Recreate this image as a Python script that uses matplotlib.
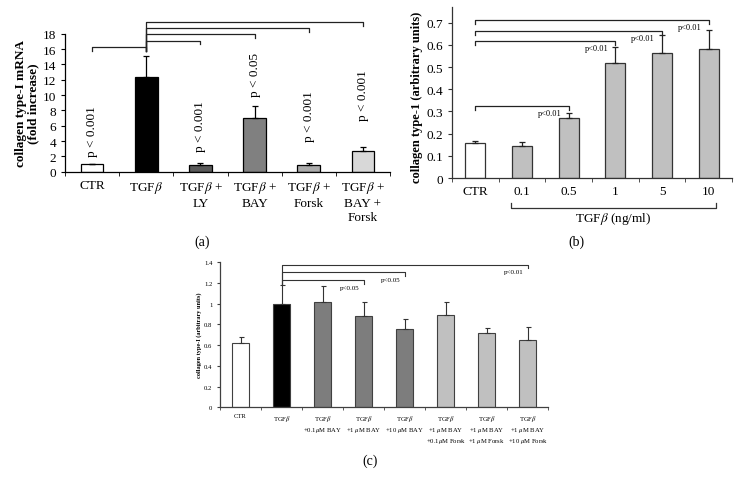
import numpy as np
import matplotlib.pyplot as plt
from matplotlib import transforms

plt.rcParams['font.family'] = ['Liberation Serif', 'DejaVu Serif']
plt.rcParams['mathtext.fontset'] = 'stix'

# ---- panel (a): collagen type-I mRNA
groups_a = ['CTR', 'TGF$\\beta$', 'TGF$\\beta$ +\nLY', 'TGF$\\beta$ +\nBAY',
            'TGF$\\beta$ +\nForsk', 'TGF$\\beta$ +\nBAY +\nForsk']
mrna = [1.05, 12.4, 0.9, 6.95, 0.9, 2.65]
mrna_err = [0.0, 2.65, 0.2, 1.6, 0.18, 0.52]
pvals_a = ['p < 0.001', '', 'p < 0.001', 'p < 0.05', 'p < 0.001', 'p < 0.001']
colors_a = ['white', 'black', '#5a5a5a', '#808080', '#ababab', '#d8d8d8']
brackets_a = [(0, 1, 16.3), (1, 2, 17.1), (1, 3, 18.0), (1, 4, 18.7), (1, 5, 19.5)]

# ---- panel (b): dose response
groups_b = ['CTR', '0.1', '0.5', '1', '5', '10']
protein_b = [0.156, 0.146, 0.27, 0.517, 0.564, 0.58]
protein_b_err = [0.012, 0.015, 0.023, 0.075, 0.08, 0.088]
brackets_b = [(0, 2, 0.326, 'p<0.01'), (0, 3, 0.618, 'p<0.01'),
              (0, 4, 0.664, 'p<0.01'), (0, 5, 0.712, 'p<0.01')]

# ---- panel (c): BAY / Forskolin
groups_c = ['CTR', 'TGF$\\beta$', 'TGF$\\beta$\n+0.1$\\mu$M BAY', 'TGF$\\beta$\n+1 $\\mu$M BAY',
            'TGF$\\beta$\n+10 $\\mu$M BAY', 'TGF$\\beta$\n+1 $\\mu$M BAY\n+0.1$\\mu$M Forsk',
            'TGF$\\beta$\n+1 $\\mu$M BAY\n+1 $\\mu$M Forsk', 'TGF$\\beta$\n+1 $\\mu$M BAY\n+10 $\\mu$M Forsk']
protein_c = [0.62, 1.0, 1.015, 0.882, 0.755, 0.888, 0.713, 0.645]
protein_c_err = [0.054, 0.175, 0.152, 0.128, 0.092, 0.13, 0.048, 0.125]
colors_c = ['white', 'black', '#7d7d7d', '#7d7d7d', '#7d7d7d', '#c0c0c0', '#c0c0c0', '#c0c0c0']
brackets_c = [(1, 3, 1.223, 'p<0.05'), (1, 4, 1.30, 'p<0.05'), (1, 7, 1.374, 'p<0.01')]

W, H = 741, 485
fig = plt.figure(figsize=(W / 100, H / 100), dpi=100)


def box(l, r, top, bot):
    return [l / W, 1 - bot / H, (r - l) / W, (bot - top) / H]


def style(ax, n, fs, edge):
    for s in ['top', 'right']:
        ax.spines[s].set_visible(False)
    for s in ['left', 'bottom']:
        ax.spines[s].set_color(edge)
        ax.spines[s].set_linewidth(0.9)
    ax.set_xlim(-0.5, n - 0.5)
    ax.set_xticks(np.arange(-0.5, n, 1), minor=True)
    ax.tick_params(axis='x', which='major', length=0, labelsize=fs)
    ax.tick_params(axis='x', which='minor', length=3, direction='out', color=edge)
    ax.tick_params(axis='y', length=3, direction='out', labelsize=fs, color=edge)


# (a)
ax = fig.add_axes(box(65, 390, 34.7, 172.7))
x = np.arange(len(mrna))
ax.bar(x, mrna, width=0.42, color=colors_a, edgecolor='black', linewidth=0.9, zorder=2)
ax.errorbar(x, mrna, yerr=[np.zeros(len(x)), mrna_err], fmt='none', ecolor='black',
            elinewidth=0.9, capsize=2.5, capthick=0.9, zorder=3)
ax.set_ylim(0, 18)
ax.set_yticks(range(0, 19, 2))
ax.set_xticks(x)
ax.set_xticklabels(groups_a, linespacing=1.25)
style(ax, len(x), 9.5, 'black')
ax.tick_params(axis='x', which='major', pad=5)
ax.set_ylabel('collagen type-I mRNA\n(fold increase)', fontsize=9.5, fontweight='bold',
              linespacing=1.1)
ax.yaxis.set_label_coords(-0.078, 0.5)
label_y_a = [2.05, 0, 2.7, 9.9, 4.0, 6.7]
for i, p in enumerate(pvals_a):
    if p:
        ax.text(i, label_y_a[i], p, rotation=90, ha='center', va='bottom', fontsize=9.5)
for i, j, y in brackets_a:
    ax.plot([i, i, j, j], [15.8, y, y, y - 0.5], color='#222222', lw=0.9, clip_on=False)

# (b)
ax = fig.add_axes(box(452, 732, 8.1, 179))
x = np.arange(len(protein_b))
ax.bar(x, protein_b, width=0.43, color=['white'] + ['#c0c0c0'] * 5,
       edgecolor='#333333', linewidth=0.9, zorder=2)
ax.errorbar(x, protein_b, yerr=[np.zeros(len(x)), protein_b_err], fmt='none', ecolor='#222222',
            elinewidth=0.9, capsize=2.5, capthick=0.9, zorder=3)
ax.set_ylim(0, 0.77)
ax.set_yticks(np.arange(0, 0.71, 0.1))
ax.set_yticklabels(['0'] + ['%.1f' % v for v in np.arange(0.1, 0.71, 0.1)])
ax.set_xticks(x)
ax.set_xticklabels(groups_b)
style(ax, len(x), 9.5, '#333333')
ax.tick_params(axis='x', which='major', pad=5)
ax.set_ylabel('collagen type-1 (arbitrary units)', fontsize=9, fontweight='bold')
ax.yaxis.set_label_coords(-0.103, 0.48)
for i, j, y, p in brackets_b:
    ax.plot([i, i, j, j], [y - 0.018, y, y, y - 0.018], color='#222222', lw=0.9)
    ax.text(j - 0.15, y - 0.031, p, ha='right', va='center', fontsize=6)
tr = transforms.blended_transform_factory(ax.transData, ax.transAxes)
ax.plot([0.77, 0.77, 5.16, 5.16], [-0.148, -0.175, -0.175, -0.148], color='#333333',
        lw=0.9, transform=tr, clip_on=False)
ax.text(2.96, -0.19, 'TGF$\\beta$ (ng/ml)', ha='center', va='top', fontsize=9.5, transform=tr)

# (c)
ax = fig.add_axes(box(220, 548.3, 263, 408.3))
x = np.arange(len(protein_c))
ax.bar(x, protein_c, width=0.42, color=colors_c, edgecolor='#404040', linewidth=0.8, zorder=2)
ax.errorbar(x, protein_c, yerr=[np.zeros(len(x)), protein_c_err], fmt='none', ecolor='#333333',
            elinewidth=0.8, capsize=1.8, capthick=0.8, zorder=3)
ax.set_ylim(0, 1.4)
ax.set_yticks(np.arange(0, 1.41, 0.2))
ax.set_yticklabels(['0', '0.2', '0.4', '0.6', '0.8', '1', '1.2', '1.4'])
ax.set_xticks(x)
ax.set_xticklabels(groups_c, linespacing=1.35)
style(ax, len(x), 4.8, '#404040')
ax.tick_params(axis='x', which='major', pad=4)
ax.tick_params(axis='y', length=2)
ax.tick_params(axis='x', which='minor', length=2)
ax.set_ylabel('collagen type-I (arbitrary units)', fontsize=4.5, fontweight='bold')
ax.yaxis.set_label_coords(-0.055, 0.5)
for i, j, y, p in brackets_c:
    ax.plot([i, i, j, j], [1.185, y, y, y - 0.035], color='#333333', lw=0.8)
    ax.text(j - 0.1, y - 0.065, p, ha='right', va='center', fontsize=5)

fig.text(202 / W, 1 - 242 / H, '(a)', ha='center', va='center', fontsize=10)
fig.text(576 / W, 1 - 242 / H, '(b)', ha='center', va='center', fontsize=10)
fig.text(370 / W, 1 - 461 / H, '(c)', ha='center', va='center', fontsize=10)

fig.savefig('out.png', dpi=100)
